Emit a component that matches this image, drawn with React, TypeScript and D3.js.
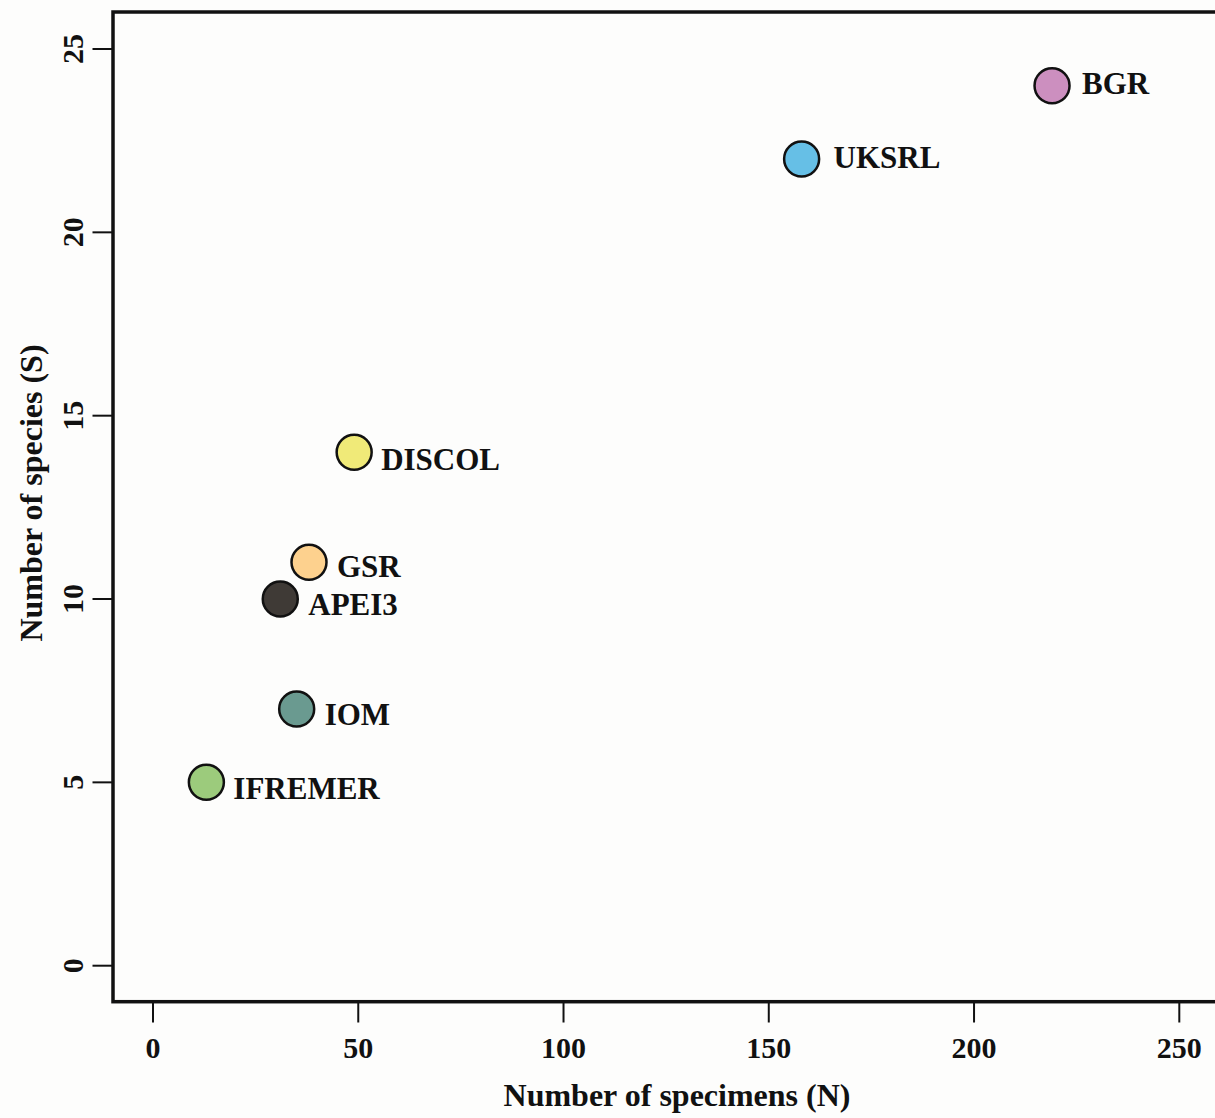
import React from "react";
import * as d3 from "d3";

const names = ["BGR", "UKSRL", "DISCOL", "GSR", "APEI3", "IOM", "IFREMER"];
const specimens = [219, 158, 49, 38, 31, 35, 13];
const species = [24, 22, 14, 11, 10, 7, 5];
const colors = ["#cc8fbf", "#66bfe6", "#f0ea78", "#fdd18e", "#3f3a36", "#6a9a90", "#9ccb7c"];
const labelDx = [30, 32, 27, 28, 28, 28, 27];
const labelDy = [8, 9, 18, 15, 16, 16, 17];
const xTicks = [0, 50, 100, 150, 200, 250];
const yTicks = [0, 5, 10, 15, 20, 25];

const W = 1215;
const H = 1118;
const FONT = "'Liberation Serif', 'Times New Roman', serif";

export default function App() {
  const x = d3.scaleLinear().domain([0, 250]).range([153, 1179.3]);
  const y = d3.scaleLinear().domain([0, 25]).range([965.7, 49]);
  const boxLeft = 113;
  const boxTop = 12;
  const boxBottom = 1001.7;
  const boxRight = 1240;

  return (
    <svg
      width={W}
      height={H}
      style={{ position: "absolute", left: 0, top: 0, background: "#fdfdfc" }}
      fontFamily={FONT}
      fontWeight="bold"
    >
      <rect x={0} y={0} width={W} height={H} fill="#fdfdfc" />
      <rect
        x={boxLeft}
        y={boxTop}
        width={boxRight - boxLeft}
        height={boxBottom - boxTop}
        fill="none"
        stroke="#111"
        strokeWidth={3.5}
      />
      {xTicks.map((t) => (
        <g key={"x" + t}>
          <line x1={x(t)} x2={x(t)} y1={boxBottom} y2={1022.5} stroke="#111" strokeWidth={2} />
          <text x={x(t)} y={1058} textAnchor="middle" fontSize={30} fill="#111">
            {t}
          </text>
        </g>
      ))}
      {yTicks.map((t) => (
        <g key={"y" + t}>
          <line x1={92.5} x2={boxLeft} y1={y(t)} y2={y(t)} stroke="#111" strokeWidth={2} />
          <text
            transform={`translate(83,${y(t)}) rotate(-90)`}
            textAnchor="middle"
            fontSize={30}
            fill="#111"
          >
            {t}
          </text>
        </g>
      ))}
      <text x={677} y={1106} textAnchor="middle" fontSize={32} fill="#111">
        Number of specimens (N)
      </text>
      <text
        transform={`translate(42,493) rotate(-90)`}
        textAnchor="middle"
        fontSize={32}
        fill="#111"
      >
        Number of species (S)
      </text>
      {names.map((n, i) => (
        <g key={n}>
          <circle
            cx={x(specimens[i])}
            cy={y(species[i])}
            r={17.5}
            fill={colors[i]}
            stroke="#111"
            strokeWidth={2.5}
          />
          <text
            x={x(specimens[i]) + labelDx[i]}
            y={y(species[i]) + labelDy[i]}
            fontSize={31}
            fill="#111"
          >
            {n}
          </text>
        </g>
      ))}
    </svg>
  );
}
